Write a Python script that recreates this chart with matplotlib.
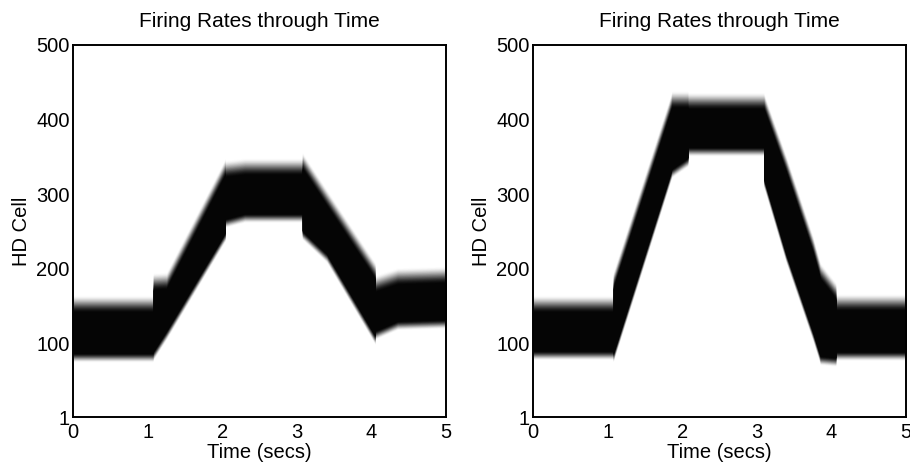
import numpy as np
import matplotlib
matplotlib.use('Agg')
import matplotlib.pyplot as plt

plt.rcParams.update({'font.family': 'Liberation Sans', 'font.size': 14.5})

# ── band of active HD cells through time (dark edges) ──
T_LEFT  = [0.0, 1.07, 1.071, 1.25, 2.04, 2.041, 2.30, 3.07, 3.071, 3.40, 4.05, 4.051, 4.35, 5.0]
LO_LEFT = [88,  88,   90,    118,  250,  268,   275,  275,  252,   221,  111,  118,   131,  133]
HI_LEFT = [141, 141,  171,   172,  325,  322,   325,  325,  333,   283,  185,  168,   178,  180]

T_RIGHT  = [0.0, 1.07, 1.071, 1.86, 2.075, 2.076, 3.09, 3.091, 3.39, 3.75, 3.85, 4.06, 4.061, 5.0]
LO_RIGHT = [91,  91,   87,    335,  350,   364,   364,  322,   221,  116,  84,   82,   90,    90]
HI_RIGHT = [141, 141,  172,   415,  415,   413,   413,  413,   329,  221,  185,  158,  143,   143]

Y_TICKS = [1, 100, 200, 300, 400, 500]
X_TICKS = [0, 1, 2, 3, 4, 5]

FADE_TOP, FADE_BOT = 24, 13
N_LAYERS = 30

# per-layer alpha so the stacked layers give a smoothstep ramp at the edges
frac = np.arange(1, N_LAYERS + 1) / N_LAYERS
trans = 1 - (3*frac**2 - 2*frac**3)
prev = np.concatenate([[1.0], trans[:-1]])
alphas = np.clip(1 - trans/np.maximum(prev, 1e-9), 0, 1)

fig = plt.figure(figsize=(9.1, 4.73), dpi=100)
panels = [(73.3, T_LEFT, LO_LEFT, HI_LEFT), (533.3, T_RIGHT, LO_RIGHT, HI_RIGHT)]

for x0, t, lo, hi in panels:
    ax = fig.add_axes([x0/910, 55.7/473, 372.7/910, 372.3/473])
    t = np.array(t); lo = np.array(lo, float); hi = np.array(hi, float)
    for k in range(N_LAYERS):
        f = 1 - k/N_LAYERS
        ax.fill_between(t, lo - FADE_BOT*f, hi + FADE_TOP*f, color='#050505',
                        alpha=alphas[k], lw=0)
    ax.fill_between(t, lo, hi, color='#050505', lw=0)

    ax.set_xlim(0, 5); ax.set_ylim(1, 500)
    ax.set_xticks(X_TICKS); ax.set_yticks(Y_TICKS)
    ax.tick_params(length=0, pad=2.5)
    ax.tick_params(axis='x', pad=4)
    for s in ax.spines.values():
        s.set_linewidth(1.4)
    ax.set_title('Firing Rates through Time', fontsize=15, pad=13)
    ax.set_xlabel('Time (secs)', labelpad=1)
    ax.set_ylabel('HD Cell', labelpad=4)

fig.savefig('out.png', dpi=100)
